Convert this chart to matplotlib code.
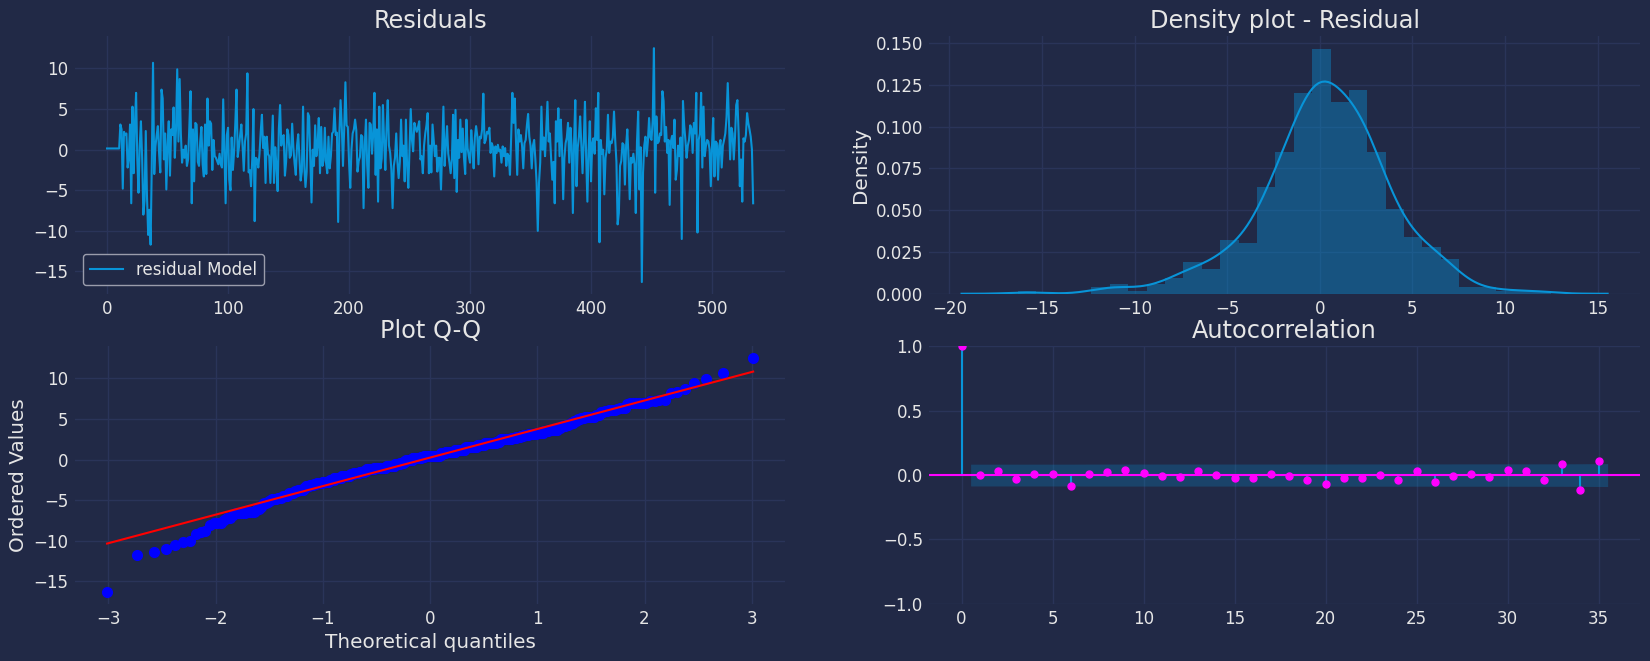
"""
Residual diagnostics: residual series, density, Q-Q plot and autocorrelation.
"""

import statistics

import numpy as np
import matplotlib
matplotlib.use("Agg")
import matplotlib.pyplot as plt

# Residuals of the model, in time order
residuals = [
    0.15, 0.15, 0.15, 0.15, 0.15, 0.15, 0.15, 0.15, 0.15, 0.15, 0.15,
    3.1, 2.5, -4.8, 2.2, 1.8, 2.0, -2.2, -1.0, 3.1, -6.6,
    5.3, -2.9, 3.0, 7.0, -1.2, -5.3, 0.5, 3.5, -1.0, -8.0,
    -6.3, 2.3, -5.8, -10.5, -7.4, -11.7, -1.5, 10.7, -3.0, 0.4,
    1.8, 2.9, -0.4, -2.8, 7.4, 6.3, -1.2, 2.0, -4.9, 0.5,
    3.5, -3.2, 2.5, 1.8, 5.2, -1.0, 2.5, 9.9, 1.0, 8.7,
    2.0, -1.6, 0.0, -1.0, 0.5, -2.0, -1.2, 2.8, 7.2, -6.6,
    2.5, -3.9, 3.3, 3.1, -1.5, -2.0, 1.0, 2.8, -1.8, -3.3,
    3.1, -3.0, 6.3, 0.5, 3.5, 3.2, -2.5, 1.2, -0.8, -1.0,
    -1.4, -1.8, -0.5, -1.8, -2.2, 6.2, -0.2, -6.6, 1.8, 2.7,
    -3.7, -5.0, 1.5, -2.5, -0.3, 3.2, 7.4, -0.9, 0.3, 1.8,
    3.1, 0.5, -2.6, 1.0, 2.0, 9.4, -2.8, -2.5, -4.5, -1.2,
    5.0, -8.8, -1.0, -1.2, -2.2, -0.5, 2.2, 4.3, 0.2, 1.6,
    -4.1, 1.6, -0.5, -0.8, -4.1, 0.0, 4.2, -4.1, 0.3, -2.0,
    -5.1, 2.6, 5.5, 0.5, 1.6, 1.8, -3.2, -1.5, 2.5, 1.8,
    -1.0, -0.7, 3.2, 0.3, -1.7, -3.1, 0.5, 1.9, -1.0, -3.8,
    -2.7, 5.3, -2.0, -4.6, -2.7, 4.5, 4.1, -1.2, -6.5, 0.0,
    -2.0, 3.0, -0.8, 0.5, 3.9, -2.9, 2.8, -2.0, -1.3, 2.7,
    -1.6, -2.9, 1.6, -2.3, -0.8, 2.0, 2.2, 5.1, 1.8, 2.1,
    -8.9, 2.0, 6.1, 2.9, -2.0, 2.5, 8.3, 3.0, 2.8, -1.5,
    -4.7, 0.0, 2.0, 2.5, 3.7, 2.4, -2.7, -1.4, -0.9, 1.8,
    1.6, -7.2, 0.5, 3.7, -1.9, -4.7, 3.3, 3.1, -0.5, 2.0,
    7.0, -3.1, 2.5, -6.4, 5.3, -2.3, -1.1, 5.5, 1.0, -2.5,
    2.7, 6.1, 0.5, -0.4, -2.5, -7.2, -2.0, -1.0, 2.0, -1.5,
    -3.5, -1.5, 3.7, -0.8, 0.5, -3.9, 3.7, -2.0, -4.7, 0.0,
    5.0, 1.2, -0.2, 3.3, 2.7, 2.2, 2.8, 3.5, -1.2, -0.8,
    -2.9, 0.5, 2.0, 3.0, 4.5, -2.9, 0.5, -2.8, 3.1, 1.2,
    -0.8, 0.5, -2.7, -1.0, -1.0, -4.9, 0.0, 5.3, -2.0, 0.6,
    2.9, -0.5, -1.6, -2.9, -1.2, 4.3, -3.5, 4.9, -5.2, 1.2,
    -1.0, 3.7, -0.3, 2.6, -1.0, -3.0, 3.7, 0.2, -0.8, -1.6,
    2.4, 0.3, -2.3, 1.5, 2.9, 1.7, -1.8, 1.6, 1.4, 2.5,
    6.9, 0.8, 1.2, 2.2, 2.0, 2.7, -0.4, 0.8, 0.3, -3.3,
    0.4, -0.4, 0.6, -0.2, 0.0, -1.6, 0.4, -0.8, 0.2, -2.0,
    -0.5, -0.8, -3.1, 1.5, 7.0, 3.3, 6.3, 1.0, -3.1, 2.5,
    1.0, 1.8, 0.5, -2.3, 0.8, 1.2, 3.0, 4.4, 1.6, 0.5,
    -2.3, 0.5, 1.2, -1.2, -4.0, -10.0, -4.1, -1.6, 5.3, 0.0,
    1.5, -0.8, 2.5, 5.9, 1.0, 2.0, -1.0, -3.7, -1.5, -6.6,
    3.5, 1.0, 5.1, -0.8, 3.7, 0.5, -6.1, -1.0, 0.8, 1.5,
    3.3, -1.6, 2.7, 0.5, -7.8, 1.0, 6.1, -4.5, 0.2, 1.6,
    4.1, 0.5, -2.9, 1.0, 5.9, -1.0, -6.4, 0.0, 3.5, -3.9,
    0.8, 1.4, -0.5, 5.1, 1.2, 7.0, -11.4, 1.2, -0.5, 0.0,
    -5.5, -1.0, 0.0, 4.3, -0.4, 1.0, 0.8, 1.5, 4.7, 1.2,
    -1.5, -9.2, -7.8, -2.0, -1.4, 0.8, 0.6, -4.3, 0.5, 2.5,
    -1.0, -6.1, -1.0, -1.6, -0.5, -1.8, -7.8, 1.0, 4.7, -4.9,
    0.3, -16.3, -2.8, 0.5, 1.6, -0.8, 1.0, 3.9, 1.5, 1.2,
    3.7, 12.5, -5.3, 4.1, 0.8, 1.0, 2.0, 1.8, 7.2, 6.0,
    1.0, 2.8, -0.4, 1.2, -6.8, 1.0, 1.7, 0.2, 3.7, -3.7,
    -2.5, 0.5, -0.8, 1.5, -11.0, 6.0, 3.0, 1.2, -1.0, 0.5,
    1.2, 3.0, 2.6, -0.4, 3.3, 2.0, 7.0, -10.2, 1.2, 2.0,
    7.0, -2.2, 5.3, -0.8, 0.5, 1.2, 1.0, 0.0, -4.5, 0.5,
    3.9, -3.3, 1.0, 0.8, -3.7, 0.5, 1.2, -2.2, 0.5, 1.2,
    2.0, 4.0, 8.2, 3.3, -1.2, 2.7, 2.0, -1.2, 1.5, 5.5,
    6.1, 2.0, -4.5, -1.2, -6.4, 1.4, 1.0, 1.8, 4.5, 3.3,
    2.5, 1.6, 0.0, -6.6,
]

# Histogram counts over 29 equal bins between min and max of the residuals
hist_counts = [1, 0, 0, 0, 2, 3, 1, 3, 5, 10, 8, 17, 16, 34, 45, 64, 78,
               61, 65, 45, 27, 18, 15, 11, 2, 2, 1, 1, 1]

# Autocorrelation for lags 0..35
acf_values = [1.0, 0.003, 0.029, -0.031, 0.005, 0.005, -0.083, 0.005, 0.021,
              0.042, 0.013, -0.005, -0.013, 0.029, -0.003, -0.021, -0.021,
              0.010, -0.010, -0.036, -0.068, -0.021, -0.021, 0.003, -0.036,
              0.029, -0.052, -0.005, 0.010, -0.013, 0.042, 0.034, -0.036,
              0.089, -0.115, 0.112]

BG = "#212946"
GRID = "#2A3459"
TEXT = "0.9"
BLUE = "#0894D8"
MAGENTA = "#FF00FF"


def setup_style():
    """Dark background style for all panels."""
    plt.rcParams.update({
        "figure.facecolor": BG,
        "axes.facecolor": BG,
        "savefig.facecolor": BG,
        "axes.edgecolor": BG,
        "axes.grid": True,
        "grid.color": GRID,
        "grid.linewidth": 1.0,
        "axes.axisbelow": True,
        "text.color": TEXT,
        "axes.labelcolor": TEXT,
        "xtick.color": TEXT,
        "ytick.color": TEXT,
        "xtick.major.size": 0,
        "ytick.major.size": 0,
        "xtick.major.pad": 4.5,
        "ytick.major.pad": 4.5,
        "font.family": "DejaVu Sans",
        "font.size": 12,
        "axes.labelsize": "large",
        "axes.titlesize": "x-large",
        "lines.linewidth": 1.5,
        "axes.prop_cycle": plt.cycler(color=[BLUE]),
    })


def hide_spines(ax):
    for side in ax.spines.values():
        side.set_visible(False)


def plot_residuals(ax, values):
    ax.plot(np.arange(len(values)), values, color=BLUE, label="residual Model")
    ax.set_title("Residuals")
    ax.set_yticks([-15, -10, -5, 0, 5, 10])
    leg = ax.legend(loc="lower left", facecolor=BG, edgecolor="#9a9cab",
                    framealpha=1.0)
    for t in leg.get_texts():
        t.set_color(TEXT)


def plot_density(ax, values, counts):
    values = np.asarray(values)
    counts = np.asarray(counts, dtype=float)
    lo, hi = values.min(), values.max()
    edges = np.linspace(lo, hi, len(counts) + 1)
    widths = np.diff(edges)
    dens = counts / (counts.sum() * widths)
    ax.bar(edges[:-1], dens, width=widths, align="edge", color=BLUE,
           alpha=0.4, linewidth=0)

    # gaussian kde (scott bandwidth) from the binned counts
    centers = 0.5 * (edges[:-1] + edges[1:])
    n = counts.sum()
    mean = np.sum(centers * counts) / n
    std = np.sqrt(np.sum(counts * (centers - mean) ** 2) / (n - 1))
    bw = std * n ** (-1 / 5)
    grid = np.linspace(lo - 3 * bw, hi + 3 * bw, 200)
    kde = (counts[None, :] * np.exp(-0.5 * ((grid[:, None] - centers[None, :]) / bw) ** 2)).sum(axis=1)
    kde /= n * bw * np.sqrt(2 * np.pi)
    ax.plot(grid, kde, color=BLUE)

    ax.set_title("Density plot - Residual")
    ax.set_ylabel("Density")
    ax.set_xticks([-20, -15, -10, -5, 0, 5, 10, 15])


def plot_qq(ax, values):
    ordered = np.sort(np.asarray(values))
    n = len(ordered)
    # Filliben's estimate of uniform order statistic medians
    m = (np.arange(1, n + 1) - 0.3175) / (n + 0.365)
    m[-1] = 0.5 ** (1.0 / n)
    m[0] = 1 - m[-1]
    norm = statistics.NormalDist()
    theo = np.array([norm.inv_cdf(p) for p in m])
    slope, intercept = np.polyfit(theo, ordered, 1)

    ax.plot(theo, ordered, "o", color="#0000FF", markersize=7)
    ax.plot(theo, slope * theo + intercept, "-", color="#FF0000", linewidth=1.5)
    ax.set_title("Plot Q-Q")
    ax.set_xlabel("Theoretical quantiles")
    ax.set_ylabel("Ordered Values")
    ax.set_yticks([-15, -10, -5, 0, 5, 10])


def plot_acf(ax, acf, n):
    acf = np.asarray(acf)
    lags = np.arange(len(acf))
    ax.vlines(lags, 0, acf, color=BLUE, linewidth=1.5)
    ax.axhline(0, color=MAGENTA, linewidth=1.5)
    ax.margins(0.05)
    ax.plot(lags, acf, marker="o", markersize=5, linestyle="None", color=MAGENTA)

    # Bartlett confidence band, 95%
    var = np.ones(len(acf)) / n
    var[0] = 0
    var[2:] = (1 + 2 * np.cumsum(acf[1:-1] ** 2)) / n
    band = 1.96 * np.sqrt(var)
    band_lags = lags[1:].astype(float)
    band_lags[0] -= 0.5
    band_lags[-1] += 0.5
    ax.fill_between(band_lags, -band[1:], band[1:], color=BLUE, alpha=0.25,
                    linewidth=0)

    ax.set_title("Autocorrelation")
    ax.set_ylim(-1, 1)
    ax.set_yticks([-1.0, -0.5, 0.0, 0.5, 1.0])


if __name__ == "__main__":
    setup_style()
    fig, axes = plt.subplots(2, 2, figsize=(16.5, 6.61), dpi=100)
    fig.subplots_adjust(left=0.0453, right=0.9939, top=0.9448, bottom=0.0867,
                        wspace=0.2023, hspace=0.2049)

    plot_residuals(axes[0, 0], residuals)
    plot_density(axes[0, 1], residuals, hist_counts)
    plot_qq(axes[1, 0], residuals)
    plot_acf(axes[1, 1], acf_values, len(residuals))

    for ax in axes.flat:
        hide_spines(ax)

    fig.savefig("out.png", dpi=100)
